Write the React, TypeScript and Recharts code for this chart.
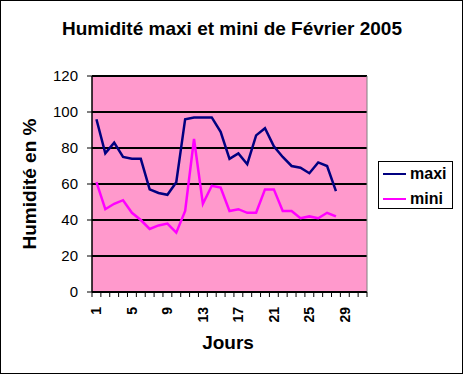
import { CartesianGrid, Line, LineChart, ReferenceLine, XAxis, YAxis } from "recharts";

const days = [1, 2, 3, 4, 5, 6, 7, 8, 9, 10, 11, 12, 13, 14, 15, 16, 17, 18, 19, 20, 21, 22, 23, 24, 25, 26, 27, 28];
const maxi = [96, 77, 83, 75, 74, 74, 57, 55, 54, 61, 96, 97, 97, 97, 89, 74, 77, 71, 87, 91, 81, 75, 70, 69, 66, 72, 70, 56];
const mini = [61, 46, 49, 51, 44, 40, 35, 37, 38, 33, 45, 85, 49, 59, 58, 45, 46, 44, 44, 57, 57, 45, 45, 41, 42, 41, 44, 42];

// day labels shown under the axis, and the category boundaries where Excel puts tick marks
const dayLabels = [1, 5, 9, 13, 17, 21, 25, 29];
const dayBounds = [0.5, 1.5, 2.5, 3.5, 4.5, 5.5, 6.5, 7.5, 8.5, 9.5, 10.5, 11.5, 12.5, 13.5, 14.5, 15.5, 16.5, 17.5, 18.5, 19.5, 20.5, 21.5, 22.5, 23.5, 24.5, 25.5, 26.5, 27.5, 28.5, 29.5, 30.5, 31.5];
const yTicks = [0, 20, 40, 60, 80, 100, 120];

const series = [
  { key: "maxi", color: "#000080" },
  { key: "mini", color: "#FF00FF" },
];

const data = days.map((day, i) => ({ day, maxi: maxi[i], mini: mini[i] }));

const FONT = "Arial, 'Liberation Sans', sans-serif";

function DayTick({ x, y, payload }: any) {
  const v = payload.value as number;
  if (!Number.isInteger(v)) {
    return <line x1={x} y1={y} x2={x} y2={y + 5} stroke="#000" strokeWidth={1} />;
  }
  const ty = y + 15;
  return (
    <text
      x={x}
      y={ty}
      transform={`rotate(-90, ${x}, ${ty})`}
      textAnchor="end"
      dominantBaseline="central"
      fontSize={14}
      fontWeight="bold"
      fill="#000"
      fontFamily={FONT}
    >
      {v}
    </text>
  );
}

export default function App() {
  return (
    <div
      style={{
        position: "absolute",
        left: 0,
        top: 0,
        width: 464,
        height: 375,
        background: "#fff",
        fontFamily: FONT,
      }}
    >
      <div
        style={{
          position: "absolute",
          left: 0,
          top: 0,
          width: 463,
          height: 374,
          border: "1px solid #000",
          boxSizing: "border-box",
        }}
      />
      <div
        style={{
          position: "absolute",
          left: 0,
          top: 17,
          width: 464,
          height: 24,
          lineHeight: "24px",
          textAlign: "center",
          fontSize: 19,
          fontWeight: "bold",
        }}
      >
        Humidité maxi et mini de Février 2005
      </div>
      <LineChart
        width={464}
        height={375}
        data={data}
        margin={{ top: 76, right: 97, left: 42, bottom: 53 }}
      >
        <CartesianGrid vertical={false} stroke="#000" strokeWidth={2} fill="#FF99CC" fillOpacity={1} />
        <XAxis
          dataKey="day"
          type="number"
          domain={[0.5, 31.5]}
          ticks={[...dayBounds, ...dayLabels]}
          interval={0}
          height={30}
          tickSize={0}
          tickMargin={0}
          tickLine={false}
          axisLine={{ stroke: "#000", strokeWidth: 1 }}
          tick={<DayTick />}
        />
        <YAxis
          width={50}
          domain={[0, 120]}
          ticks={yTicks}
          interval={0}
          tickSize={5}
          tickMargin={9}
          axisLine={{ stroke: "#000", strokeWidth: 1.5 }}
          tickLine={{ stroke: "#000" }}
          tick={{ fill: "#000", fontSize: 15, fontFamily: FONT }}
        />
        <ReferenceLine x={31.5} stroke="#808080" strokeWidth={1} />
        {series.map((s) => (
          <Line
            key={s.key}
            type="linear"
            dataKey={s.key}
            stroke={s.color}
            strokeWidth={2.5}
            dot={false}
            isAnimationActive={false}
          />
        ))}
      </LineChart>
      <div
        style={{
          position: "absolute",
          left: -70,
          top: 172,
          width: 200,
          height: 24,
          lineHeight: "24px",
          textAlign: "center",
          fontSize: 19,
          fontWeight: "bold",
          transform: "rotate(-90deg)",
        }}
      >
        Humidité en %
      </div>
      <div
        style={{
          position: "absolute",
          left: 128,
          top: 331,
          width: 200,
          height: 24,
          lineHeight: "24px",
          textAlign: "center",
          fontSize: 19,
          fontWeight: "bold",
        }}
      >
        Jours
      </div>
      <div
        style={{
          position: "absolute",
          left: 378,
          top: 161,
          width: 75,
          height: 48,
          border: "1px solid #000",
          boxSizing: "border-box",
          background: "#fff",
        }}
      >
        {series.map((s, i) => (
          <div
            key={s.key}
            style={{
              position: "absolute",
              left: 4,
              top: 2 + i * 25,
              height: 20,
              display: "flex",
              alignItems: "center",
              fontSize: 16,
              fontWeight: "bold",
            }}
          >
            <span style={{ display: "inline-block", width: 23, height: 2, background: s.color, marginRight: 4 }} />
            {s.key}
          </div>
        ))}
      </div>
    </div>
  );
}
